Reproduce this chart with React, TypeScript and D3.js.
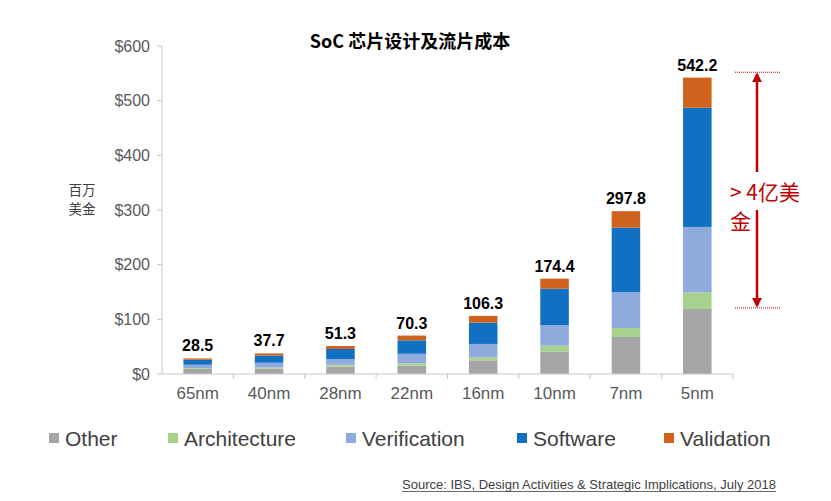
import React from "react";
import * as d3 from "d3";

const categories = ["65nm", "40nm", "28nm", "22nm", "16nm", "10nm", "7nm", "5nm"];
const other = [9.5, 10, 13.5, 15.2, 25, 40.8, 67.7, 119];
const architecture = [1.5, 1.8, 3.5, 4.3, 5.5, 11, 16.3, 30.5];
const verification = [6, 8.8, 10.2, 17.5, 24.5, 37.8, 65.4, 119.5];
const software = [9, 13.2, 18.6, 24.6, 39, 66.4, 118.3, 218];
const validation = [2.5, 3.9, 5.5, 8.7, 12.3, 18.4, 30.1, 55.2];
const totals = [28.5, 37.7, 51.3, 70.3, 106.3, 174.4, 297.8, 542.2];
const seriesNames = ["Other", "Architecture", "Verification", "Software", "Validation"];
const seriesColors = ["#a5a5a5", "#a9d18e", "#8faadc", "#1270c2", "#cf621d"];
const yTicks = [0, 100, 200, 300, 400, 500, 600];
const annotationRange = [121, 552];

const W = 831;
const H = 501;

export default function App() {
  const x = d3.scaleBand<string>().domain(categories).range([162, 733]).paddingInner(0.6).paddingOuter(0.3);
  const step = x.step();
  const y = d3.scaleLinear().domain([0, 600]).range([374, 46]);

  const rows = categories.map((c, i) => ({
    cat: c,
    Other: other[i],
    Architecture: architecture[i],
    Verification: verification[i],
    Software: software[i],
    Validation: validation[i],
  }));
  const stacked = d3.stack<any>().keys(seriesNames)(rows);

  const legendX = [49, 168, 346, 517, 664];
  const arrowX = 757;
  const yTop = y(annotationRange[1]);
  const yBot = y(annotationRange[0]);
  const red = "#c00000";
  const sans = "'Liberation Sans', Arial, sans-serif";
  const cjk = "'Noto Sans CJK SC', sans-serif";

  return (
    <svg width={W} height={H} viewBox={`0 0 ${W} ${H}`} style={{ display: "block", position: "absolute", left: 0, top: 0, background: "#fff" }}>
      <defs>
        <marker id="ah" viewBox="0 0 10 10" refX="8" refY="5" markerWidth="4" markerHeight="4" orient="auto-start-reverse">
          <path d="M0,0 L10,5 L0,10 z" fill={red} />
        </marker>
      </defs>
      <rect x={0} y={0} width={W} height={H} fill="#fff" />

      {/* title */}
      <text x={410} y={48} textAnchor="middle" fontFamily={cjk} fontWeight={700} fontSize={18} fill="#000">
        SoC 芯片设计及流片成本
      </text>

      {/* y axis */}
      <line x1={162} x2={162} y1={y(600)} y2={y(0)} stroke="#c8c8c8" strokeWidth={1} />
      {yTicks.map((t) => (
        <g key={t}>
          <line x1={157} x2={162} y1={y(t)} y2={y(t)} stroke="#c8c8c8" />
          <text x={150} y={y(t)} dy="0.35em" textAnchor="end" fontFamily={sans} fontSize={16} fill="#595959">
            ${t}
          </text>
        </g>
      ))}
      <text x={82} y={195} textAnchor="middle" fontFamily={cjk} fontSize={13.5} fill="#404040">百万</text>
      <text x={82} y={214} textAnchor="middle" fontFamily={cjk} fontSize={13.5} fill="#404040">美金</text>

      {/* bars */}
      {stacked.map((s, si) => (
        <g key={s.key} fill={seriesColors[si]}>
          {s.map((d, i) => (
            <rect key={i} x={x(categories[i])} width={x.bandwidth()} y={y(d[1])} height={y(d[0]) - y(d[1])} />
          ))}
        </g>
      ))}

      {/* x axis */}
      <line x1={162} x2={733} y1={y(0)} y2={y(0)} stroke="#c8c8c8" />
      {categories.map((c) => {
        const bx = (x(c) as number) - (step - x.bandwidth()) / 2 + step;
        return <line key={c} x1={bx} x2={bx} y1={y(0)} y2={y(0) + 5} stroke="#c8c8c8" />;
      })}
      {categories.map((c) => (
        <text key={c} x={(x(c) as number) + x.bandwidth() / 2} y={399} textAnchor="middle" fontFamily={sans} fontSize={17} fill="#595959">
          {c}
        </text>
      ))}

      {/* totals */}
      {categories.map((c, i) => (
        <text key={c} x={(x(c) as number) + x.bandwidth() / 2} y={y(totals[i]) - 7} textAnchor="middle" fontFamily={sans} fontWeight={700} fontSize={16} fill="#000">
          {totals[i].toFixed(1)}
        </text>
      ))}

      {/* annotation */}
      <line x1={735} x2={780} y1={yTop} y2={yTop} stroke={red} strokeWidth={1} strokeDasharray="1,1" />
      <line x1={735} x2={780} y1={yBot} y2={yBot} stroke={red} strokeWidth={1} strokeDasharray="1,1" />
      <line x1={arrowX} x2={arrowX} y1={172} y2={yTop + 2} stroke={red} strokeWidth={2.5} markerEnd="url(#ah)" />
      <line x1={arrowX} x2={arrowX} y1={210} y2={yBot - 2} stroke={red} strokeWidth={2.5} markerEnd="url(#ah)" />
      <text x={730} y={200} fontFamily={cjk} fontSize={21} fill={red}>&gt; 4亿美</text>
      <text x={730} y={229} fontFamily={cjk} fontSize={21} fill={red}>金</text>

      {/* legend */}
      {seriesNames.map((n, i) => (
        <g key={n}>
          <rect x={legendX[i]} y={433} width={10} height={10} fill={seriesColors[i]} />
          <text x={legendX[i] + 16} y={445.5} fontFamily={sans} fontSize={21} fill="#404040">{n}</text>
        </g>
      ))}

      {/* source */}
      <text x={402} y={489} fontFamily={sans} fontSize={13} fill="#404040" textLength={374} lengthAdjust="spacingAndGlyphs">
        Source: IBS, Design Activities &amp; Strategic Implications, July 2018
      </text>
      <line x1={402} x2={776} y1={491.5} y2={491.5} stroke="#404040" strokeWidth={0.8} />
    </svg>
  );
}
